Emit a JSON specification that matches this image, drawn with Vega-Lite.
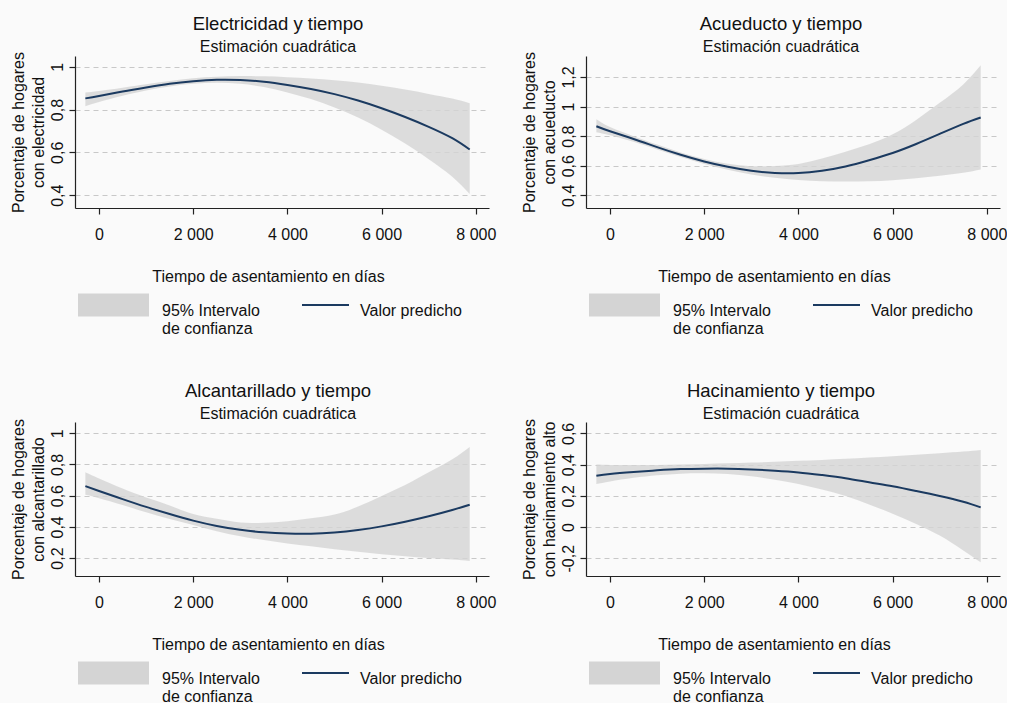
{
  "$schema": "https://vega.github.io/schema/vega-lite/v6.json",
  "background": "#fafafa",
  "padding": {"left": 10, "top": 14, "right": 0, "bottom": 0},
  "bounds": "flush",
  "columns": 2,
  "spacing": {"row": 214, "column": 97},
  "datasets": {
    "elec": [
      {"t": -290, "fit": 0.852, "lo": 0.815, "hi": 0.880},
      {"t": 0, "fit": 0.863, "lo": 0.835, "hi": 0.887},
      {"t": 500, "fit": 0.884, "lo": 0.864, "hi": 0.902},
      {"t": 1000, "fit": 0.903, "lo": 0.889, "hi": 0.918},
      {"t": 1500, "fit": 0.920, "lo": 0.908, "hi": 0.933},
      {"t": 2000, "fit": 0.932, "lo": 0.920, "hi": 0.946},
      {"t": 2500, "fit": 0.939, "lo": 0.925, "hi": 0.953},
      {"t": 3000, "fit": 0.938, "lo": 0.920, "hi": 0.956},
      {"t": 3500, "fit": 0.930, "lo": 0.905, "hi": 0.955},
      {"t": 4000, "fit": 0.915, "lo": 0.880, "hi": 0.951},
      {"t": 4500, "fit": 0.896, "lo": 0.849, "hi": 0.945},
      {"t": 5000, "fit": 0.872, "lo": 0.810, "hi": 0.937},
      {"t": 5500, "fit": 0.842, "lo": 0.763, "hi": 0.926},
      {"t": 6000, "fit": 0.806, "lo": 0.706, "hi": 0.911},
      {"t": 6500, "fit": 0.765, "lo": 0.641, "hi": 0.893},
      {"t": 7000, "fit": 0.719, "lo": 0.568, "hi": 0.873},
      {"t": 7500, "fit": 0.666, "lo": 0.486, "hi": 0.851},
      {"t": 7870, "fit": 0.613, "lo": 0.405, "hi": 0.829}
    ],
    "acue": [
      {"t": -290, "fit": 0.867, "lo": 0.826, "hi": 0.915},
      {"t": 0, "fit": 0.833, "lo": 0.806, "hi": 0.862},
      {"t": 500, "fit": 0.781, "lo": 0.762, "hi": 0.800},
      {"t": 1000, "fit": 0.726, "lo": 0.710, "hi": 0.743},
      {"t": 1500, "fit": 0.674, "lo": 0.659, "hi": 0.690},
      {"t": 2000, "fit": 0.629, "lo": 0.612, "hi": 0.645},
      {"t": 2500, "fit": 0.593, "lo": 0.573, "hi": 0.613},
      {"t": 3000, "fit": 0.566, "lo": 0.540, "hi": 0.597},
      {"t": 3500, "fit": 0.551, "lo": 0.518, "hi": 0.598},
      {"t": 4000, "fit": 0.550, "lo": 0.503, "hi": 0.612},
      {"t": 4500, "fit": 0.566, "lo": 0.495, "hi": 0.648},
      {"t": 5000, "fit": 0.595, "lo": 0.493, "hi": 0.695},
      {"t": 5500, "fit": 0.637, "lo": 0.495, "hi": 0.745},
      {"t": 6000, "fit": 0.686, "lo": 0.502, "hi": 0.812},
      {"t": 6500, "fit": 0.747, "lo": 0.515, "hi": 0.910},
      {"t": 7000, "fit": 0.815, "lo": 0.532, "hi": 1.025},
      {"t": 7500, "fit": 0.883, "lo": 0.553, "hi": 1.150},
      {"t": 7870, "fit": 0.926, "lo": 0.575, "hi": 1.279}
    ],
    "alca": [
      {"t": -290, "fit": 0.661, "lo": 0.605, "hi": 0.750},
      {"t": 0, "fit": 0.630, "lo": 0.584, "hi": 0.710},
      {"t": 500, "fit": 0.578, "lo": 0.540, "hi": 0.645},
      {"t": 1000, "fit": 0.528, "lo": 0.493, "hi": 0.588},
      {"t": 1500, "fit": 0.482, "lo": 0.451, "hi": 0.537},
      {"t": 2000, "fit": 0.440, "lo": 0.412, "hi": 0.482},
      {"t": 2500, "fit": 0.406, "lo": 0.372, "hi": 0.452},
      {"t": 3000, "fit": 0.381, "lo": 0.340, "hi": 0.428},
      {"t": 3500, "fit": 0.365, "lo": 0.315, "hi": 0.427},
      {"t": 4000, "fit": 0.357, "lo": 0.294, "hi": 0.436},
      {"t": 4500, "fit": 0.356, "lo": 0.275, "hi": 0.455},
      {"t": 5000, "fit": 0.364, "lo": 0.257, "hi": 0.479},
      {"t": 5500, "fit": 0.380, "lo": 0.240, "hi": 0.530},
      {"t": 6000, "fit": 0.403, "lo": 0.225, "hi": 0.598},
      {"t": 6500, "fit": 0.433, "lo": 0.212, "hi": 0.668},
      {"t": 7000, "fit": 0.468, "lo": 0.200, "hi": 0.750},
      {"t": 7500, "fit": 0.508, "lo": 0.190, "hi": 0.833},
      {"t": 7870, "fit": 0.542, "lo": 0.181, "hi": 0.912}
    ],
    "haci": [
      {"t": -290, "fit": 0.328, "lo": 0.275, "hi": 0.400},
      {"t": 0, "fit": 0.339, "lo": 0.292, "hi": 0.398},
      {"t": 500, "fit": 0.352, "lo": 0.315, "hi": 0.397},
      {"t": 1000, "fit": 0.363, "lo": 0.332, "hi": 0.398},
      {"t": 1500, "fit": 0.371, "lo": 0.342, "hi": 0.400},
      {"t": 2000, "fit": 0.374, "lo": 0.344, "hi": 0.404},
      {"t": 2500, "fit": 0.374, "lo": 0.340, "hi": 0.408},
      {"t": 3000, "fit": 0.369, "lo": 0.325, "hi": 0.413},
      {"t": 3500, "fit": 0.361, "lo": 0.303, "hi": 0.418},
      {"t": 4000, "fit": 0.350, "lo": 0.276, "hi": 0.424},
      {"t": 4500, "fit": 0.333, "lo": 0.240, "hi": 0.430},
      {"t": 5000, "fit": 0.313, "lo": 0.198, "hi": 0.437},
      {"t": 5500, "fit": 0.287, "lo": 0.145, "hi": 0.445},
      {"t": 6000, "fit": 0.261, "lo": 0.085, "hi": 0.454},
      {"t": 6500, "fit": 0.231, "lo": 0.020, "hi": 0.463},
      {"t": 7000, "fit": 0.199, "lo": -0.055, "hi": 0.473},
      {"t": 7500, "fit": 0.162, "lo": -0.150, "hi": 0.484},
      {"t": 7870, "fit": 0.126, "lo": -0.226, "hi": 0.494}
    ]
  },
  "concat": [
    {
      "width": 414, "height": 152,
      "title": {"text": "Electricidad y tiempo", "subtitle": "Estimación cuadrática", "dx": -4},
      "data": {"name": "elec"},
      "encoding": {
        "x": {"field": "t", "type": "quantitative", "scale": {"domain": [-510, 8280], "nice": false, "zero": false},
              "axis": {"values": [0, 2000, 4000, 6000, 8000], "title": "Tiempo de asentamiento en días", "titleX": 193}}
      },
      "layer": [
        {"mark": {"type": "area", "interpolate": "natural", "opacity": 0.8},
         "encoding": {
           "y": {"field": "lo", "type": "quantitative", "scale": {"domain": [0.34, 1.05], "nice": false, "zero": false},
                 "axis": {"values": [0.4, 0.6, 0.8, 1], "title": ["Porcentaje de hogares", "con electricidad"]}},
           "y2": {"field": "hi"},
           "color": {"datum": "ci", "type": "nominal", "scale": {"domain": ["ci", "fit"], "range": ["#d4d4d4", "#1b3a60"]},
                     "legend": {"orient": "none", "legendX": 30.5, "legendY": 241,
                       "labelExpr": "datum.value == 'ci' ? ['95% Intervalo', 'de confianza'] : ['Valor predicho', '']",
                       "encode": {
                         "symbols": {"update": {
                           "shape": {"signal": "datum.value == 'ci' ? 'M-3.087,-1H3.087V1H-3.087Z' : 'M-2.043,0H2.043'"},
                           "fill": {"signal": "datum.value == 'ci' ? '#dddddd' : 'transparent'"},
                           "stroke": {"signal": "datum.value == 'ci' ? 'transparent' : '#1b3a60'"},
                           "strokeWidth": {"signal": "datum.value == 'ci' ? 0 : 2"},
                           "opacity": {"value": 1}}},
                         "labels": {"update": {"dx": {"signal": "datum.value == 'ci' ? 0 : -14"}, "dy": {"value": -2}}}}}}
         }},
        {"mark": {"type": "line", "interpolate": "natural", "strokeWidth": 2},
         "encoding": {
           "y": {"field": "fit", "type": "quantitative", "axis": {"values": [0.4, 0.6, 0.8, 1], "title": ["Porcentaje de hogares", "con electricidad"]}},
           "color": {"datum": "fit", "type": "nominal"}
         }}
      ]
    },
    {
      "width": 414, "height": 152,
      "title": {"text": "Acueducto y tiempo", "subtitle": "Estimación cuadrática", "dx": -12},
      "data": {"name": "acue"},
      "encoding": {
        "x": {"field": "t", "type": "quantitative", "scale": {"domain": [-510, 8280], "nice": false, "zero": false},
              "axis": {"values": [0, 2000, 4000, 6000, 8000], "title": "Tiempo de asentamiento en días", "titleX": 188}}
      },
      "layer": [
        {"mark": {"type": "area", "interpolate": "natural", "opacity": 0.8},
         "encoding": {
           "y": {"field": "lo", "type": "quantitative", "scale": {"domain": [0.314, 1.342], "nice": false, "zero": false},
                 "axis": {"values": [0.4, 0.6, 0.8, 1, 1.2], "title": ["Porcentaje de hogares", "con acueducto"]}},
           "y2": {"field": "hi"},
           "color": {"datum": "ci", "type": "nominal", "scale": {"domain": ["ci", "fit"], "range": ["#d4d4d4", "#1b3a60"]},
                     "legend": {"orient": "none", "legendX": 30.5, "legendY": 241,
                       "labelExpr": "datum.value == 'ci' ? ['95% Intervalo', 'de confianza'] : ['Valor predicho', '']",
                       "encode": {
                         "symbols": {"update": {
                           "shape": {"signal": "datum.value == 'ci' ? 'M-3.087,-1H3.087V1H-3.087Z' : 'M-2.043,0H2.043'"},
                           "fill": {"signal": "datum.value == 'ci' ? '#dddddd' : 'transparent'"},
                           "stroke": {"signal": "datum.value == 'ci' ? 'transparent' : '#1b3a60'"},
                           "strokeWidth": {"signal": "datum.value == 'ci' ? 0 : 2"},
                           "opacity": {"value": 1}}},
                         "labels": {"update": {"dx": {"signal": "datum.value == 'ci' ? 0 : -14"}, "dy": {"value": -2}}}}}}
         }},
        {"mark": {"type": "line", "interpolate": "natural", "strokeWidth": 2},
         "encoding": {
           "y": {"field": "fit", "type": "quantitative", "axis": {"values": [0.4, 0.6, 0.8, 1, 1.2], "title": ["Porcentaje de hogares", "con acueducto"]}},
           "color": {"datum": "fit", "type": "nominal"}
         }}
      ]
    },
    {
      "width": 414, "height": 154,
      "title": {"text": "Alcantarillado y tiempo", "subtitle": "Estimación cuadrática", "dx": -4},
      "data": {"name": "alca"},
      "encoding": {
        "x": {"field": "t", "type": "quantitative", "scale": {"domain": [-510, 8280], "nice": false, "zero": false},
              "axis": {"values": [0, 2000, 4000, 6000, 8000], "title": "Tiempo de asentamiento en días", "titleX": 193}}
      },
      "layer": [
        {"mark": {"type": "area", "interpolate": "natural", "opacity": 0.8},
         "encoding": {
           "y": {"field": "lo", "type": "quantitative", "scale": {"domain": [0.085, 1.072], "nice": false, "zero": false},
                 "axis": {"values": [0.2, 0.4, 0.6, 0.8, 1], "title": ["Porcentaje de hogares", "con alcantarillado"]}},
           "y2": {"field": "hi"},
           "color": {"datum": "ci", "type": "nominal", "scale": {"domain": ["ci", "fit"], "range": ["#d4d4d4", "#1b3a60"]},
                     "legend": {"orient": "none", "legendX": 30.5, "legendY": 243,
                       "labelExpr": "datum.value == 'ci' ? ['95% Intervalo', 'de confianza'] : ['Valor predicho', '']",
                       "encode": {
                         "symbols": {"update": {
                           "shape": {"signal": "datum.value == 'ci' ? 'M-3.087,-1H3.087V1H-3.087Z' : 'M-2.043,0H2.043'"},
                           "fill": {"signal": "datum.value == 'ci' ? '#dddddd' : 'transparent'"},
                           "stroke": {"signal": "datum.value == 'ci' ? 'transparent' : '#1b3a60'"},
                           "strokeWidth": {"signal": "datum.value == 'ci' ? 0 : 2"},
                           "opacity": {"value": 1}}},
                         "labels": {"update": {"dx": {"signal": "datum.value == 'ci' ? 0 : -14"}, "dy": {"value": -2}}}}}}
         }},
        {"mark": {"type": "line", "interpolate": "natural", "strokeWidth": 2},
         "encoding": {
           "y": {"field": "fit", "type": "quantitative", "axis": {"values": [0.2, 0.4, 0.6, 0.8, 1], "title": ["Porcentaje de hogares", "con alcantarillado"]}},
           "color": {"datum": "fit", "type": "nominal"}
         }}
      ]
    },
    {
      "width": 414, "height": 154,
      "title": {"text": "Hacinamiento y tiempo", "subtitle": "Estimación cuadrática", "dx": -12},
      "data": {"name": "haci"},
      "encoding": {
        "x": {"field": "t", "type": "quantitative", "scale": {"domain": [-510, 8280], "nice": false, "zero": false},
              "axis": {"values": [0, 2000, 4000, 6000, 8000], "title": "Tiempo de asentamiento en días", "titleX": 188}}
      },
      "layer": [
        {"mark": {"type": "area", "interpolate": "natural", "opacity": 0.8},
         "encoding": {
           "y": {"field": "lo", "type": "quantitative", "scale": {"domain": [-0.314, 0.673], "nice": false, "zero": false},
                 "axis": {"values": [-0.2, 0, 0.2, 0.4, 0.6], "title": ["Porcentaje de hogares", "con hacinamiento alto"]}},
           "y2": {"field": "hi"},
           "color": {"datum": "ci", "type": "nominal", "scale": {"domain": ["ci", "fit"], "range": ["#d4d4d4", "#1b3a60"]},
                     "legend": {"orient": "none", "legendX": 30.5, "legendY": 243,
                       "labelExpr": "datum.value == 'ci' ? ['95% Intervalo', 'de confianza'] : ['Valor predicho', '']",
                       "encode": {
                         "symbols": {"update": {
                           "shape": {"signal": "datum.value == 'ci' ? 'M-3.087,-1H3.087V1H-3.087Z' : 'M-2.043,0H2.043'"},
                           "fill": {"signal": "datum.value == 'ci' ? '#dddddd' : 'transparent'"},
                           "stroke": {"signal": "datum.value == 'ci' ? 'transparent' : '#1b3a60'"},
                           "strokeWidth": {"signal": "datum.value == 'ci' ? 0 : 2"},
                           "opacity": {"value": 1}}},
                         "labels": {"update": {"dx": {"signal": "datum.value == 'ci' ? 0 : -14"}, "dy": {"value": -2}}}}}}
         }},
        {"mark": {"type": "line", "interpolate": "natural", "strokeWidth": 2},
         "encoding": {
           "y": {"field": "fit", "type": "quantitative", "axis": {"values": [-0.2, 0, 0.2, 0.4, 0.6], "title": ["Porcentaje de hogares", "con hacinamiento alto"]}},
           "color": {"datum": "fit", "type": "nominal"}
         }}
      ]
    }
  ],
  "resolve": {"scale": {"color": "independent"}, "legend": {"color": "independent"}},
  "config": {
    "font": "Liberation Sans",
    "view": {"stroke": null},
    "title": {"font": "Liberation Sans", "fontSize": 18.5, "fontWeight": "normal", "color": "#111111",
              "subtitleFont": "Liberation Sans", "subtitleFontSize": 16, "subtitleColor": "#111111",
              "subtitlePadding": 6, "offset": -3.5, "anchor": "middle"},
    "axis": {"labelFont": "Liberation Sans", "labelFontSize": 16, "labelColor": "#111111",
             "titleFont": "Liberation Sans", "titleFontSize": 16, "titleFontWeight": "normal", "titleColor": "#111111",
             "domainColor": "#222222", "domainWidth": 1.2, "tickColor": "#222222", "tickWidth": 1.2, "tickSize": 6,
             "labelOverlap": false, "labelFlush": false},
    "axisX": {"grid": false, "labelPadding": 12, "titlePadding": 26,
              "labelExpr": "replace(format(datum.value, ','), ',', ' ')"},
    "axisY": {"grid": true, "gridDash": [5, 4], "gridColor": "#c8c8c8", "gridWidth": 1,
              "labelAngle": -90, "labelAlign": "center", "labelBaseline": "alphabetic", "labelPadding": 7,
              "labelExpr": "replace(replace(format(datum.value, '.1~f'), '.', ','), '\u2212', '-')",
              "titlePadding": 3, "titleLineHeight": 20},
    "legend": {"direction": "horizontal", "title": null, "padding": 0, "symbolSize": 529, "symbolStrokeWidth": 0,
               "labelFont": "Liberation Sans", "labelFontSize": 16, "labelColor": "#111111", "labelLimit": 300,
               "labelOffset": 40.5, "columnPadding": 37, "labelBaseline": "top", "symbolOpacity": 1}
  }
}
